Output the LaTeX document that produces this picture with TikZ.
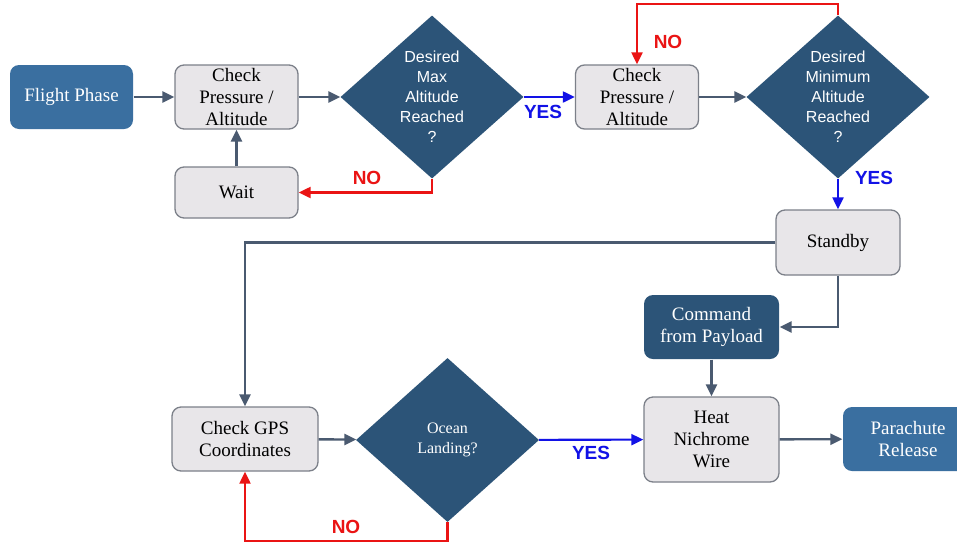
\documentclass[tikz,border=0pt]{standalone}
\usepackage{fontspec}
\setmainfont{Liberation Serif}
\newfontfamily\arialf{Liberation Sans}
\usetikzlibrary{arrows.meta,shapes.geometric}
\definecolor{boxfill}{HTML}{E8E6E9}
\definecolor{boxline}{HTML}{7C8089}
\definecolor{midblue}{HTML}{3A6FA0}
\definecolor{darkblue}{HTML}{2C5478}
\definecolor{conn}{HTML}{4A5A70}
\definecolor{yesblue}{HTML}{1212E6}
\definecolor{nored}{HTML}{EA1414}
\tikzset{
  box/.style={draw=boxline, fill=boxfill, rounded corners=9pt, line width=1.3pt,
    minimum width=123pt, minimum height=64pt, align=center, inner sep=0pt,
    font=\fontsize{19}{22}\selectfont},
  bluebox/.style={box, draw=none, fill=midblue, text=white},
  darkbox/.style={box, draw=none, fill=darkblue, text=white},
  dia/.style={diamond, fill=darkblue, inner sep=0pt, minimum width=183pt, minimum height=163pt},
  diatext/.style={text=white, align=center, font=\arialf\fontsize{16}{20}\selectfont},
  garrow/.style={draw=conn, line width=2.4pt, -{Triangle[length=12pt,width=11pt]}},
  barrow/.style={draw=yesblue, line width=2.1pt, -{Triangle[length=12pt,width=11pt]}},
  rarrow/.style={draw=nored, line width=2.1pt, -{Triangle[length=12pt,width=11pt]}},
  yeslab/.style={text=yesblue, font=\arialf\bfseries\fontsize{19}{20}\selectfont},
  nolab/.style={text=nored, font=\arialf\bfseries\fontsize{19}{20}\selectfont},
}
\begin{document}
\begin{tikzpicture}[x=1pt,y=-1pt]
\clip (0,0) rectangle (957,544);
\fill[white] (0,0) rectangle (957,544);
% nodes
\node[bluebox] (fp) at (71.5,97) {Flight Phase};
\node[box] (cp1) at (236.5,97) {Check\\Pressure /\\Altitude};
\node[box, minimum height=51pt] (wait) at (236.5,192.5) {Wait};
\node[dia] (d1) at (432,97) {};
\node[diatext] (d1t) at (432,97) {Desired\\Max\\Altitude\\Reached\\?};
\node[box] (cp2) at (637,97) {Check\\Pressure /\\Altitude};
\node[dia] (d2) at (838,97) {};
\node[diatext] (d2t) at (838,97) {Desired\\Minimum\\Altitude\\Reached\\?};
\node[box, minimum width=124pt, minimum height=65pt] (sb) at (838,242.5) {Standby};
\node[darkbox, minimum width=135pt] (cmd) at (711.5,327) {Command\\from Payload};
\node[box, minimum width=135pt, minimum height=85pt] (heat) at (711.5,439.5) {Heat\\Nichrome\\Wire};
\node[box, minimum width=146pt] (gps) at (245,439) {Check GPS\\Coordinates};
\node[dia, minimum height=164pt] (d3) at (447.5,440) {};
\node[text=white, align=center, font=\fontsize{16}{20}\selectfont] (d3t) at (447.5,440) {Ocean\\Landing?};
\node[bluebox, minimum width=130pt] (pr) at (908,439) {Parachute\\Release};
% connectors
\draw[garrow] (fp) -- (cp1);
\draw[garrow] (cp1) -- (d1);
\draw[garrow] (wait) -- (cp1);
\draw[rarrow] (d1.south) |- (wait.east);
\draw[barrow] (d1) -- (cp2);
\draw[garrow] (cp2) -- (d2);
\draw[rarrow] (d2.north) -- ++(0,-11) coordinate (topr) -| (cp2.north);
\draw[barrow] (d2.south) -- (sb.north);
\draw[garrow] (sb.west) -| (gps.north);
\draw[garrow] (sb.south) |- (cmd.east);
\draw[garrow] (cmd) -- (heat);
\draw[garrow] (gps) -- (d3);
\draw[barrow] (d3) -- (heat);
\draw[rarrow] (d3.south) -- ++(0,19) coordinate (botr) -| (gps.south);
\draw[garrow] (heat) -- (pr);
% labels
\node[yeslab] (y1) at (543,112) {YES};
\node[nolab] (n1) at (367,178) {NO};
\node[nolab] (n2) at (668,42) {NO};
\node[yeslab] (y2) at (874,178) {YES};
\node[yeslab] (y3) at (591,453) {YES};
\node[nolab] (n3) at (346,527) {NO};
\end{tikzpicture}
\end{document}
